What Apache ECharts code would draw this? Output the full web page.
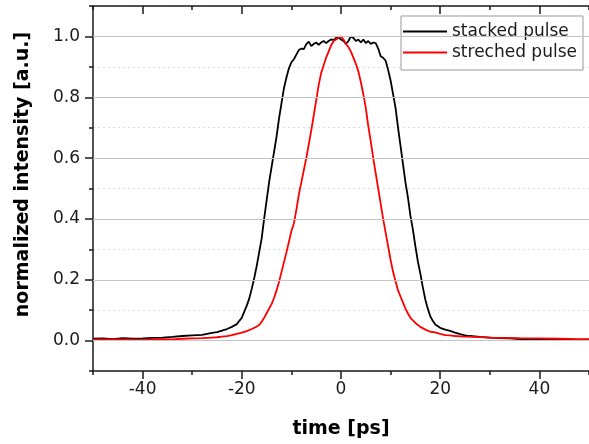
<!DOCTYPE html>
<html>
<head>
<meta charset="utf-8">
<script src="https://cdn.jsdelivr.net/npm/echarts@6/dist/echarts.min.js"></script>
<style>html,body{margin:0;padding:0;background:#fff}#c{width:589px;height:444px}</style>
</head>
<body>
<div id="c"></div>
<script>
// ---- data ----
var tStacked = [-50,-48,-46,-44,-42,-40,-38,-36,-34,-32,-30,-29,-28,-27,-26,-25,-24,-23,-22,-21,-20.5,-20,-19.5,-19,-18.5,-18,-17.5,-17,-16.5,-16,-15.5,-15,-14.5,-14,-13.5,-13,-12.5,-12,-11.5,-11,-10.5,-10,-9.5,-9,-8.5,-8,-7.5,-7,-6.5,-6,-5.5,-5,-4.5,-4,-3.5,-3,-2.5,-2,-1.5,-1,-0.5,0,0.5,1,1.5,2,2.5,3,3.5,4,4.5,5,5.5,6,6.5,7,7.5,8,8.5,9,9.5,10,10.5,11,11.5,12,12.5,13,13.5,14,14.5,15,15.5,16,16.5,17,17.5,18,18.5,19,20,21,22,23,24,25,26,28,30,32,34,36,38,40,42,44,46,48,50];
var vStacked = [0.006,0.007,0.005,0.008,0.006,0.007,0.009,0.010,0.012,0.015,0.017,0.018,0.019,0.022,0.025,0.028,0.033,0.038,0.045,0.054,0.065,0.075,0.095,0.115,0.138,0.17,0.205,0.245,0.29,0.335,0.40,0.46,0.52,0.57,0.62,0.67,0.73,0.78,0.83,0.865,0.895,0.915,0.925,0.94,0.955,0.96,0.958,0.975,0.983,0.968,0.975,0.98,0.972,0.98,0.985,0.978,0.985,0.99,0.988,0.995,0.997,0.99,0.985,0.975,0.985,1.0,0.995,0.985,0.99,0.98,0.99,0.978,0.985,0.975,0.98,0.978,0.96,0.935,0.93,0.92,0.89,0.855,0.81,0.765,0.70,0.64,0.58,0.52,0.47,0.41,0.365,0.31,0.26,0.22,0.175,0.135,0.105,0.08,0.065,0.053,0.042,0.036,0.032,0.026,0.021,0.017,0.015,0.012,0.010,0.008,0.007,0.005,0.004,0.005,0.004,0.003,0.003,0.002,0.003];
var tStretched = [-50,-46,-42,-40,-38,-36,-34,-32,-30,-28,-26,-25,-24,-23,-22,-21,-20,-19,-18,-17,-16.5,-16,-15.5,-15,-14.5,-14,-13.5,-13,-12.5,-12,-11.5,-11,-10.5,-10,-9.5,-9,-8.5,-8,-7.5,-7,-6.5,-6,-5.5,-5,-4.5,-4,-3.5,-3,-2.5,-2,-1.5,-1,-0.5,0,0.5,1,1.5,2,2.5,3,3.5,4,4.5,5,5.5,6,6.5,7,7.5,8,8.5,9,9.5,10,10.5,11,11.5,12,12.5,13,13.5,14,15,16,17,18,19,20,21,22,23,24,25,27,30,33,36,40,44,48,50];
var vStretched = [0.003,0.004,0.003,0.002,0.004,0.005,0.004,0.006,0.007,0.008,0.010,0.011,0.013,0.015,0.018,0.022,0.026,0.031,0.038,0.046,0.051,0.062,0.075,0.09,0.105,0.12,0.14,0.165,0.193,0.225,0.258,0.29,0.325,0.36,0.385,0.43,0.48,0.52,0.56,0.60,0.645,0.69,0.74,0.79,0.84,0.88,0.905,0.93,0.95,0.97,0.985,0.99,0.995,1.0,0.99,0.975,0.965,0.95,0.93,0.91,0.885,0.85,0.81,0.765,0.705,0.655,0.60,0.55,0.50,0.45,0.40,0.355,0.31,0.265,0.226,0.195,0.165,0.145,0.125,0.105,0.089,0.075,0.058,0.045,0.036,0.029,0.027,0.022,0.018,0.017,0.015,0.014,0.013,0.012,0.010,0.009,0.008,0.007,0.006,0.005,0.005];
var seriesNames = ['stacked pulse', 'streched pulse'];
var xMajorTicks = [-40, -20, 0, 20, 40];
var yMajorTicks = [0, 0.2, 0.4, 0.6, 0.8, 1.0];
var xTitle = 'time [ps]';
var yTitle = 'normalized intensity [a.u.]';

function pairs(t, v) { return t.map(function (x, i) { return [x, v[i]]; }); }

var FONT = 'DejaVu Sans';
var axisLineStyle = { color: '#1a1a1a', width: 1.5 };
var tickStyle = { color: '#1a1a1a', width: 1.5 };

var chart = echarts.init(document.getElementById('c'), null, { renderer: 'canvas' });
chart.setOption({
  animation: false,
  backgroundColor: '#fff',
  grid: { left: 93, top: 6, right: -3, bottom: 71, containLabel: false },
  legend: {
    orient: 'vertical', left: 401, top: 16,
    padding: [7, 6, 9, 2], itemGap: 4, itemWidth: 44, itemHeight: 2,
    backgroundColor: '#fff', borderColor: '#999', borderWidth: 1, borderRadius: 0,
    textStyle: { fontFamily: FONT, fontSize: 17, color: '#1a1a1a' },
    data: [{ name: seriesNames[0], icon: 'rect' }, { name: seriesNames[1], icon: 'rect' }]
  },
  xAxis: [
    { type: 'value', min: -50, max: 50, interval: 10, position: 'bottom',
      axisLine: { show: true, onZero: false, lineStyle: axisLineStyle },
      axisTick: { show: true, length: 4, lineStyle: tickStyle },
      axisLabel: { show: true, customValues: xMajorTicks, margin: 10, fontFamily: FONT, fontSize: 17, color: '#1a1a1a' },
      splitLine: { show: false },
      name: xTitle, nameLocation: 'middle', nameGap: 49,
      nameTextStyle: { fontFamily: FONT, fontSize: 19, fontWeight: 'bold', color: '#000' } },
    { type: 'value', min: -50, max: 50, interval: 10, position: 'bottom',
      axisLine: { show: false, onZero: false },
      axisTick: { show: true, length: 8, customValues: xMajorTicks, lineStyle: tickStyle },
      axisLabel: { show: false }, splitLine: { show: false } },
    { type: 'value', min: -50, max: 50, interval: 10, position: 'top',
      axisLine: { show: true, onZero: false, lineStyle: axisLineStyle },
      axisTick: { show: true, inside: true, length: 4, lineStyle: tickStyle },
      axisLabel: { show: false }, splitLine: { show: false } },
    { type: 'value', min: -50, max: 50, interval: 10, position: 'top',
      axisLine: { show: false, onZero: false },
      axisTick: { show: true, inside: true, length: 8, customValues: xMajorTicks, lineStyle: tickStyle },
      axisLabel: { show: false }, splitLine: { show: false } }
  ],
  yAxis: [
    { type: 'value', min: -0.1, max: 1.1, interval: 0.1, position: 'left',
      axisLine: { show: true, onZero: false, lineStyle: axisLineStyle },
      axisTick: { show: true, length: 4, lineStyle: tickStyle },
      axisLabel: { show: false },
      splitLine: { show: true, lineStyle: { color: '#dddddd', width: 1, type: [2, 3] } } },
    { type: 'value', min: -0.1, max: 1.1, interval: 0.1, position: 'left',
      axisLine: { show: false, onZero: false },
      axisTick: { show: true, length: 8, customValues: yMajorTicks, lineStyle: tickStyle },
      axisLabel: { show: true, customValues: yMajorTicks, margin: 13, fontFamily: FONT, fontSize: 17, color: '#1a1a1a',
        formatter: function (v) { return v.toFixed(1); } },
      splitLine: { show: false },
      name: yTitle, nameLocation: 'middle', nameGap: 60,
      nameTextStyle: { fontFamily: FONT, fontSize: 19, fontWeight: 'bold', color: '#000', padding: [0, 0, 0, 28] } }
  ],
  series: [
    { name: seriesNames[0], type: 'line', xAxisIndex: 0, yAxisIndex: 0, symbol: 'none', smooth: false,
      lineStyle: { color: '#000', width: 1.8 }, itemStyle: { color: '#000' },
      data: pairs(tStacked, vStacked), z: 3,
      markLine: { silent: true, symbol: 'none', label: { show: false },
        lineStyle: { color: '#c4c4c4', width: 1, type: 'solid' },
        data: yMajorTicks.map(function (v) { return { yAxis: v }; }) } },
    { name: seriesNames[1], type: 'line', xAxisIndex: 0, yAxisIndex: 0, symbol: 'none', smooth: false,
      lineStyle: { color: '#ff0000', width: 1.8 }, itemStyle: { color: '#ff0000' },
      data: pairs(tStretched, vStretched), z: 4 }
  ]
});
</script>
</body>
</html>
